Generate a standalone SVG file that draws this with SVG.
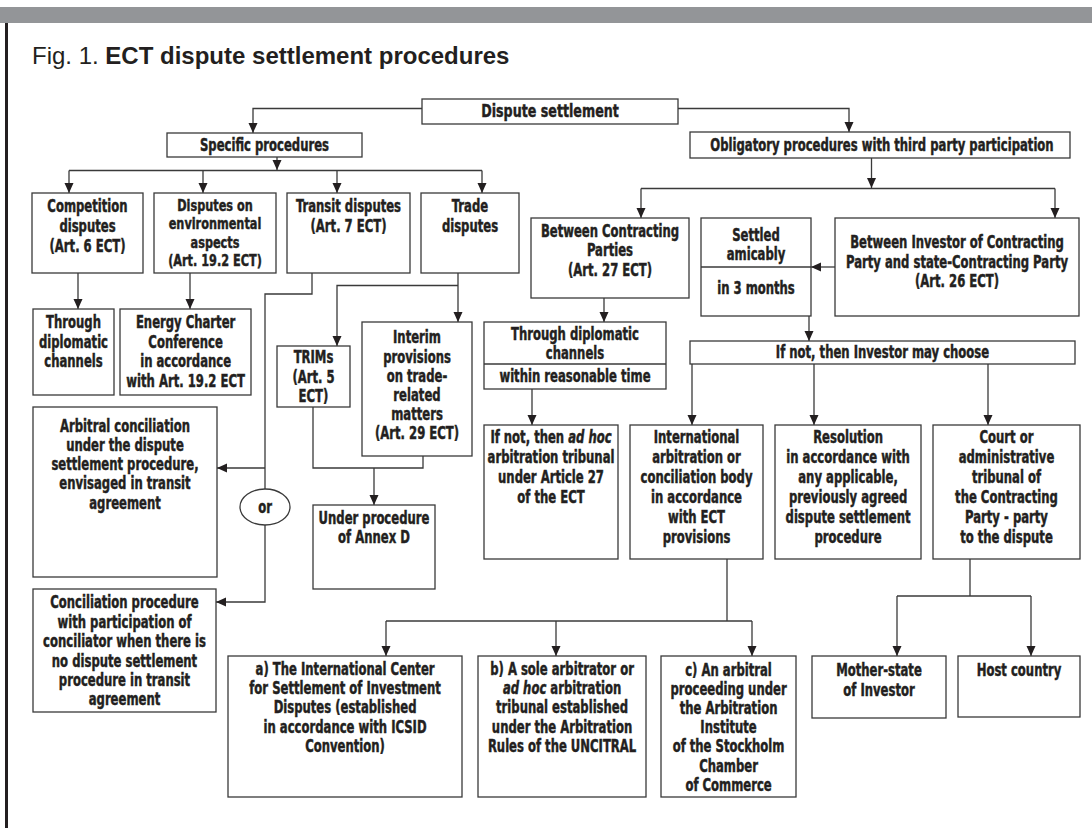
<svg xmlns="http://www.w3.org/2000/svg" width="1092" height="828" viewBox="0 0 1092 828">
<defs>
<style>
.b{fill:#fff;stroke:#3a3a3a;stroke-width:1.3}
.t{font-family:"DejaVu Sans Condensed","DejaVu Sans",sans-serif;font-stretch:condensed;font-weight:bold;font-size:16.8px;fill:#231f20;stroke:#231f20;stroke-width:0.45;text-anchor:middle;transform-box:fill-box;transform-origin:50% 50%;transform:scaleX(0.77)}
.c line,.c polyline{fill:none;stroke:#3a3a3a;stroke-width:1.3}
.a{marker-end:url(#ah)}
.i{font-style:italic}
</style>
<marker id="ah" viewBox="0 0 10 10" refX="10" refY="5" markerWidth="10" markerHeight="10" markerUnits="userSpaceOnUse" orient="auto"><path d="M0,0.5 L10,5 L0,9.5 Z" fill="#231f20"/></marker>
</defs>
<rect x="0" y="0" width="1092" height="828" fill="#fff"/>
<rect x="0" y="7" width="1092" height="16" fill="#939598"/>
<line x1="6.5" y1="23" x2="6.5" y2="828" stroke="#231f20" stroke-width="3"/>
<text x="32" y="64" font-family="Liberation Sans, Arial, sans-serif" font-size="24" fill="#231f20">Fig. 1. <tspan font-weight="bold">ECT dispute settlement procedures</tspan></text>

<g id="connectors" class="c">
<polyline class="a" points="422,108.5 253,108.5 253,133"/>
<polyline class="a" points="678,108.5 849,108.5 849,132"/>
<line class="a" x1="277" y1="157" x2="277" y2="170"/>
<line x1="69" y1="170.5" x2="482" y2="170.5"/>
<line class="a" x1="69" y1="170.5" x2="69" y2="193"/>
<line class="a" x1="203" y1="170.5" x2="203" y2="193"/>
<line class="a" x1="337" y1="170.5" x2="337" y2="193"/>
<line class="a" x1="482" y1="170.5" x2="482" y2="193"/>
<line class="a" x1="78" y1="273" x2="78" y2="309"/>
<line class="a" x1="190" y1="273" x2="190" y2="309"/>
<polyline points="312,273 312,294 265,294 265,489"/>
<line class="a" x1="265" y1="468" x2="217" y2="468"/>
<polyline class="a" points="265,525 265,602 216,602"/>
<line class="a" x1="458" y1="273" x2="458" y2="322"/>
<polyline class="a" points="458,285.5 337,285.5 337,346"/>
<polyline points="313,407 313,468 423,468 423,456"/>
<line class="a" x1="374" y1="468" x2="374" y2="505"/>
<line class="a" x1="871.5" y1="158" x2="871.5" y2="188"/>
<line x1="641" y1="188.5" x2="1055" y2="188.5"/>
<line class="a" x1="641" y1="188.5" x2="641" y2="218"/>
<line class="a" x1="1055" y1="188.5" x2="1055" y2="218"/>
<line class="a" x1="835" y1="267" x2="811" y2="267"/>
<line class="a" x1="809" y1="316" x2="809" y2="341"/>
<line class="a" x1="604" y1="298" x2="604" y2="322"/>
<line class="a" x1="532" y1="389" x2="532" y2="425"/>
<line class="a" x1="692" y1="364" x2="692" y2="425"/>
<line class="a" x1="814" y1="364" x2="814" y2="425"/>
<line class="a" x1="988" y1="364" x2="988" y2="425"/>
<line x1="727" y1="559" x2="727" y2="621"/>
<line x1="386" y1="621" x2="752" y2="621"/>
<line class="a" x1="386" y1="621" x2="386" y2="656"/>
<line class="a" x1="556" y1="621" x2="556" y2="656"/>
<line class="a" x1="752" y1="621" x2="752" y2="656"/>
<line x1="970" y1="559" x2="970" y2="596"/>
<line x1="897" y1="596" x2="1031" y2="596"/>
<line class="a" x1="897" y1="596" x2="897" y2="656"/>
<line class="a" x1="1031" y1="596" x2="1031" y2="656"/>
</g>

<g id="dispute"><rect class="b" x="422" y="99" width="256" height="25"/><text class="t" x="550" y="117" style="font-size:18.3px">Dispute settlement</text></g>
<g id="specific"><rect class="b" x="167" y="133" width="195" height="24"/><text class="t" x="264.5" y="151">Specific procedures</text></g>
<g id="obligatory"><rect class="b" x="690" y="132" width="380" height="26"/><text class="t" x="882" y="151">Obligatory procedures with third party participation</text></g>

<g id="competition"><rect class="b" x="32" y="193" width="111" height="80"/><text class="t"><tspan x="87.5" y="212">Competition</tspan><tspan x="87.5" y="232">disputes</tspan><tspan x="87.5" y="252">(Art. 6 ECT)</tspan></text></g>
<g id="environmental"><rect class="b" x="154" y="193" width="122" height="80"/><text class="t" style="font-size:16.3px"><tspan x="215" y="211">Disputes on</tspan><tspan x="215" y="229.5">environmental</tspan><tspan x="215" y="248">aspects</tspan><tspan x="215" y="266.5">(Art. 19.2 ECT)</tspan></text></g>
<g id="transit"><rect class="b" x="287" y="193" width="123" height="80"/><text class="t"><tspan x="348.5" y="212">Transit disputes</tspan><tspan x="348.5" y="232">(Art. 7 ECT)</tspan></text></g>
<g id="trade"><rect class="b" x="421" y="193" width="98" height="80"/><text class="t"><tspan x="470" y="212">Trade</tspan><tspan x="470" y="232">disputes</tspan></text></g>

<g id="diplomatic-left"><rect class="b" x="33" y="309" width="81" height="86"/><text class="t"><tspan x="73.5" y="328">Through</tspan><tspan x="73.5" y="348">diplomatic</tspan><tspan x="73.5" y="367">channels</tspan></text></g>
<g id="energy-charter"><rect class="b" x="120" y="309" width="131" height="86"/><text class="t"><tspan x="185.5" y="328">Energy Charter</tspan><tspan x="185.5" y="348">Conference</tspan><tspan x="185.5" y="367">in accordance</tspan><tspan x="185.5" y="387">with Art. 19.2 ECT</tspan></text></g>
<g id="trims"><rect class="b" x="277" y="346" width="73" height="61"/><text class="t"><tspan x="313.5" y="363">TRIMs</tspan><tspan x="313.5" y="383">(Art. 5</tspan><tspan x="313.5" y="402">ECT)</tspan></text></g>
<g id="interim"><rect class="b" x="362" y="322" width="110" height="134"/><text class="t"><tspan x="417" y="343">Interim</tspan><tspan x="417" y="363">provisions</tspan><tspan x="417" y="382">on trade-</tspan><tspan x="417" y="401">related</tspan><tspan x="417" y="420">matters</tspan><tspan x="417" y="439">(Art. 29 ECT)</tspan></text></g>
<g id="arbitral-conciliation"><rect class="b" x="33" y="407" width="184" height="170"/><text class="t"><tspan x="125" y="432">Arbitral conciliation</tspan><tspan x="125" y="451">under the dispute</tspan><tspan x="125" y="470">settlement procedure,</tspan><tspan x="125" y="489">envisaged in transit</tspan><tspan x="125" y="509">agreement</tspan></text></g>
<g id="or"><ellipse class="b" cx="265" cy="507" rx="25" ry="18"/><text class="t" x="265" y="513">or</text></g>
<g id="annex-d"><rect class="b" x="313" y="505" width="122" height="84"/><text class="t"><tspan x="374" y="524">Under procedure</tspan><tspan x="374" y="543">of Annex D</tspan></text></g>
<g id="conciliation"><rect class="b" x="33" y="589" width="183" height="123"/><text class="t"><tspan x="124.5" y="608">Conciliation procedure</tspan><tspan x="124.5" y="628">with participation of</tspan><tspan x="124.5" y="647">conciliator when there is</tspan><tspan x="124.5" y="667">no dispute settlement</tspan><tspan x="124.5" y="686">procedure in transit</tspan><tspan x="124.5" y="705">agreement</tspan></text></g>

<g id="between-parties"><rect class="b" x="531" y="218" width="158" height="80"/><text class="t"><tspan x="610" y="237">Between Contracting</tspan><tspan x="610" y="256">Parties</tspan><tspan x="610" y="276">(Art. 27 ECT)</tspan></text></g>
<g id="settled"><rect class="b" x="701" y="218" width="110" height="98"/><line x1="701" y1="267" x2="811" y2="267" stroke="#3a3a3a" stroke-width="1.3"/><text class="t"><tspan x="756" y="241">Settled</tspan><tspan x="756" y="260">amicably</tspan><tspan x="756" y="294">in 3 months</tspan></text></g>
<g id="between-investor"><rect class="b" x="835" y="218" width="244" height="98"/><text class="t"><tspan x="957" y="248">Between Investor of Contracting</tspan><tspan x="957" y="268">Party and state-Contracting Party</tspan><tspan x="957" y="287">(Art. 26 ECT)</tspan></text></g>
<g id="diplomatic-right"><rect class="b" x="484" y="322" width="182" height="67"/><line x1="484" y1="364" x2="666" y2="364" stroke="#3a3a3a" stroke-width="1.3"/><text class="t"><tspan x="575" y="340">Through diplomatic</tspan><tspan x="575" y="359">channels</tspan><tspan x="575" y="382">within reasonable time</tspan></text></g>
<g id="investor-choose"><rect class="b" x="690" y="341" width="385" height="23"/><text class="t" x="882.5" y="358">If not, then Investor may choose</text></g>

<g id="ad-hoc"><rect class="b" x="484" y="425" width="134" height="134"/><text class="t"><tspan x="551" y="443">If not, then <tspan class="i">ad hoc</tspan></tspan><tspan x="551" y="463">arbitration tribunal</tspan><tspan x="551" y="483">under Article 27</tspan><tspan x="551" y="503">of the ECT</tspan></text></g>
<g id="international"><rect class="b" x="630" y="425" width="133" height="134"/><text class="t"><tspan x="696.5" y="443">International</tspan><tspan x="696.5" y="463">arbitration or</tspan><tspan x="696.5" y="483">conciliation body</tspan><tspan x="696.5" y="503">in accordance</tspan><tspan x="696.5" y="523">with ECT</tspan><tspan x="696.5" y="543">provisions</tspan></text></g>
<g id="resolution"><rect class="b" x="775" y="425" width="146" height="134"/><text class="t"><tspan x="848" y="443">Resolution</tspan><tspan x="848" y="463">in accordance with</tspan><tspan x="848" y="483">any applicable,</tspan><tspan x="848" y="503">previously agreed</tspan><tspan x="848" y="523">dispute settlement</tspan><tspan x="848" y="543">procedure</tspan></text></g>
<g id="court"><rect class="b" x="933" y="425" width="147" height="134"/><text class="t"><tspan x="1006.5" y="443">Court or</tspan><tspan x="1006.5" y="463">administrative</tspan><tspan x="1006.5" y="483">tribunal of</tspan><tspan x="1006.5" y="503">the Contracting</tspan><tspan x="1006.5" y="523">Party - party</tspan><tspan x="1006.5" y="543">to the dispute</tspan></text></g>

<g id="icsid"><rect class="b" x="228" y="656" width="234" height="141"/><text class="t"><tspan x="345" y="675">a) The International Center</tspan><tspan x="345" y="694">for Settlement of Investment</tspan><tspan x="345" y="713">Disputes (established</tspan><tspan x="345" y="733">in accordance with ICSID</tspan><tspan x="345" y="752">Convention)</tspan></text></g>
<g id="uncitral"><rect class="b" x="478" y="656" width="168" height="141"/><text class="t"><tspan x="562" y="675">b) A sole arbitrator or</tspan><tspan x="562" y="694"><tspan class="i">ad hoc</tspan> arbitration</tspan><tspan x="562" y="713">tribunal established</tspan><tspan x="562" y="733">under the Arbitration</tspan><tspan x="562" y="752">Rules of the UNCITRAL</tspan></text></g>
<g id="stockholm"><rect class="b" x="661" y="656" width="135" height="141"/><text class="t"><tspan x="728.5" y="676">c) An arbitral</tspan><tspan x="728.5" y="695">proceeding under</tspan><tspan x="728.5" y="714">the Arbitration</tspan><tspan x="728.5" y="733">Institute</tspan><tspan x="728.5" y="752">of the Stockholm</tspan><tspan x="728.5" y="772">Chamber</tspan><tspan x="728.5" y="791">of Commerce</tspan></text></g>
<g id="mother-state"><rect class="b" x="812" y="656" width="134" height="62"/><text class="t"><tspan x="879" y="676">Mother-state</tspan><tspan x="879" y="696">of Investor</tspan></text></g>
<g id="host-country"><rect class="b" x="958" y="656" width="122" height="61"/><text class="t" x="1019" y="676">Host country</text></g>
</svg>
